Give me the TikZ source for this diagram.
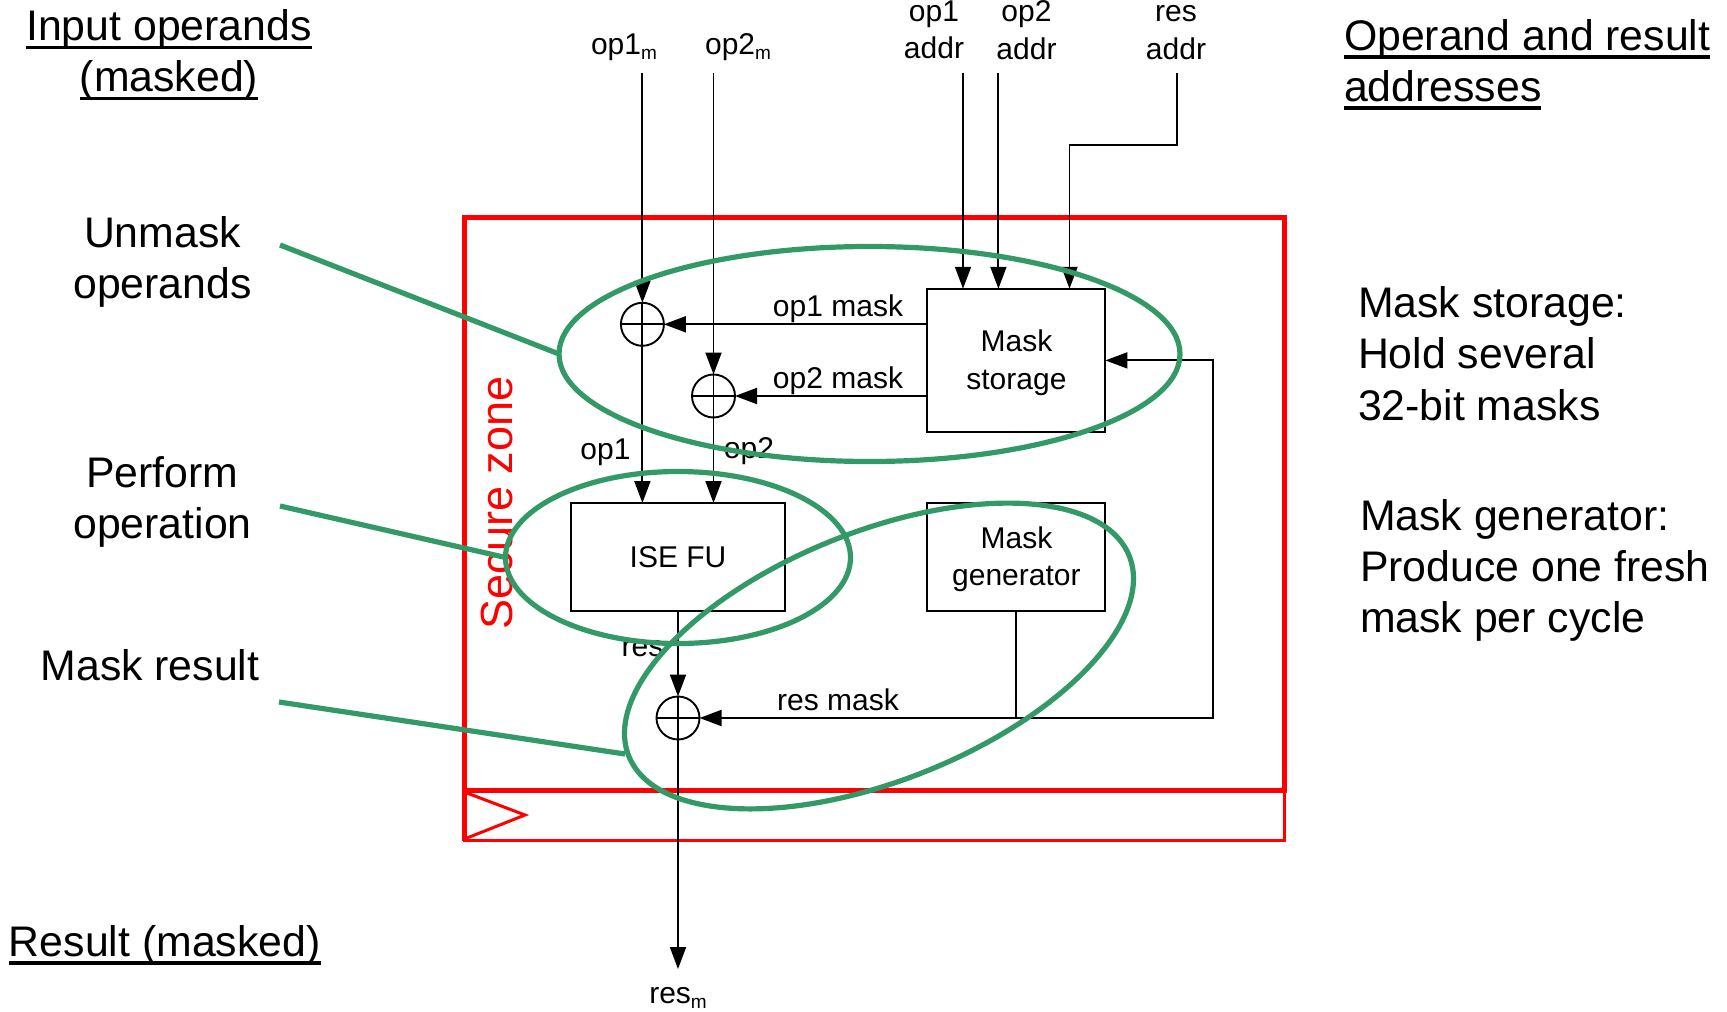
\documentclass[tikz,border=0pt]{standalone}
\usepackage{fontspec}
\setmainfont{Liberation Sans}
\usetikzlibrary{arrows.meta,shapes.geometric}
\definecolor{grn}{HTML}{339966}
\newcommand{\subm}{\raisebox{-0.35ex}{\fontsize{9.5}{9.5}\selectfont m}}
\newcommand{\ulin}[1]{\leavevmode\setbox0=\hbox{#1}\rlap{\rule[-0.2em]{\wd0}{0.08em}}\box0}
\newcommand{\lowr}{\rule{0pt}{13.1pt}}
\tikzset{
  x=0.5pt,y=-0.5pt,
  wire/.style={draw=black,line width=0.95pt},
  arr/.style={wire,-{Triangle[length=11pt,width=8pt]}},
  box/.style={draw=black,line width=0.95pt,inner sep=0pt,outer sep=0pt,align=center,font=\fontsize{15}{18.7}\selectfont},
  lab/.style={inner sep=0pt,outer sep=0pt,align=center,font=\fontsize{15}{18.7}\selectfont},
  big/.style={inner sep=0pt,outer sep=0pt,font=\fontsize{21.4}{25.6}\selectfont},
  xorc/.style={circle,draw=black,line width=0.95pt,minimum size=21.5pt,inner sep=0pt,outer sep=0pt},
  zone/.style={draw=red,line width=2.5pt},
  hl/.style={ellipse,draw=grn,line width=2.6pt,inner sep=0pt,outer sep=0pt},
  lead/.style={draw=grn,line width=2.6pt},
}
\begin{document}
\begin{tikzpicture}
\useasboundingbox (0,0) rectangle (1727,1011);
% secure zone
\draw[zone] (464,217) rectangle (1284,790);
\draw[draw=red,line width=1.5pt] (464,790) rectangle (1284,840);
\draw[draw=red,line width=2.5pt] (464,790) -- (464,841);
\draw[draw=red,line width=1.5pt] (467,793) -- (525,815) -- (467,838);
\node[red,rotate=90,inner sep=0pt,font=\fontsize{22.5}{26}\selectfont] (sz) at (497,503) {Secure zone};

% blocks
\node[box,minimum width=89pt,minimum height=71.65pt] (ms) at (1016.4,360.4) {\lowr Mask\\storage};
\node[box,minimum width=89pt,minimum height=54pt] (mg) at (1016.4,557) {\lowr Mask\\generator};
\node[box,minimum width=107pt,minimum height=54pt] (fu) at (678,557) {ISE FU};
\node[xorc] (x1) at (642.4,324.3) {};
\node[xorc] (x2) at (713.5,396) {};
\node[xorc] (x3) at (678,718) {};

% free ends
\coordinate (i1) at (642.4,73);
\coordinate (i2) at (713.5,73);
\coordinate (a1) at (963,73);
\coordinate (a2) at (998.4,73);
\coordinate (a3) at (1176.7,73);
\coordinate (a3b) at (1069.5,145);
\coordinate (out) at (678,969);
\coordinate (fb) at (1212.7,718);

% connectors
\draw[arr] (i1) -- (x1.north);
\draw[arr] (i2) -- (x2.north);
\draw[wire] (x1.north) -- (x1.south);
\draw[wire] (x2.north) -- (x2.south);
\draw[wire] (x3.north) -- (x3.south);
\draw[wire] (x1.west) -- (x1.east);
\draw[wire] (x2.west) -- (x2.east);
\draw[wire] (x3.west) -- (x3.east);
\draw[arr] (x1.south) -- (x1.south |- fu.north);
\draw[arr] (x2.south) -- (x2.south |- fu.north);
\draw[arr] (a1) -- (a1 |- ms.north);
\draw[arr] (a2) -- (a2 |- ms.north);
\draw[arr] (a3) -- (a3 |- a3b) -- (a3b) -- (a3b |- ms.north);
\draw[arr] (ms.west |- x1.east) -- (x1.east);
\draw[arr] (ms.west |- x2.east) -- (x2.east);
\draw[arr] (fu.south) -- (x3.north);
\draw[arr] (x3.south) -- (out);
\draw[arr] (mg.south) -- (mg.south |- x3.east) -- (x3.east);
\draw[arr] (mg.south |- x3.east) -- (fb) -- (fb |- ms.east) -- (ms.east);

% labels
\node[lab] (t1) at (624,47) {op1\subm};
\node[lab] (t2) at (738,47) {op2\subm};
\node[lab] (t3) at (934,30) {op1\\addr};
\node[lab] (t4) at (1026.5,30) {op2\\addr};
\node[lab] (t5) at (1176,32.5) {res\\addr};
\node[lab] (t6) at (838,309) {op1 mask};
\node[lab] (t7) at (838,380.5) {op2 mask};
\node[lab] (t8) at (838,700) {res mask};
\node[lab] (t9) at (605.5,452.5) {op1};
\node[lab] (t10) at (749,451) {op2};
\node[lab] (t11) at (642.5,649) {res};
\node[lab] (t12) at (678,998) {res\subm};

% big text
\node[big,align=center] (b1) at (169,55) {\ulin{Input operands}\\\ulin{(masked)}};
\node[big,align=left,anchor=west] (b2) at (1344,64.5) {\ulin{Operand and result}\\\ulin{addresses}};
\node[big,align=left,anchor=west] (b3) at (9,945) {\ulin{Result (masked)}};
\node[big,align=center] (b4) at (162.5,262) {Unmask\\operands};
\node[big,align=center] (b5) at (162.5,502) {Perform\\operation};
\node[big] (b6) at (150,665) {Mask result};
\node[big,align=left,anchor=west] (b7) at (1358,353.5) {Mask storage:\\Hold several\\32-bit masks};
\node[big,align=left,anchor=west] (b8) at (1360,570.5) {Mask generator:\\Produce one fresh\\mask per cycle};

% highlights
\node[hl,minimum width=310.5pt,minimum height=107.5pt] (e1) at (869.5,354) {};
\node[hl,minimum width=172.5pt,minimum height=86pt] (e2) at (678,557.5) {};
\node[hl,minimum width=269.5pt,minimum height=124.5pt,rotate=21.8] (e3) at (879,656) {};
\coordinate (l1) at (280,245);
\coordinate (l2) at (280,506);
\coordinate (l3) at (279,702);
\coordinate (l3e) at (625,754);
\draw[lead] (l1) -- (e1.west);
\draw[lead] (l2) -- (e2.west);
\draw[lead] (l3) -- (l3e);
\end{tikzpicture}
\end{document}
